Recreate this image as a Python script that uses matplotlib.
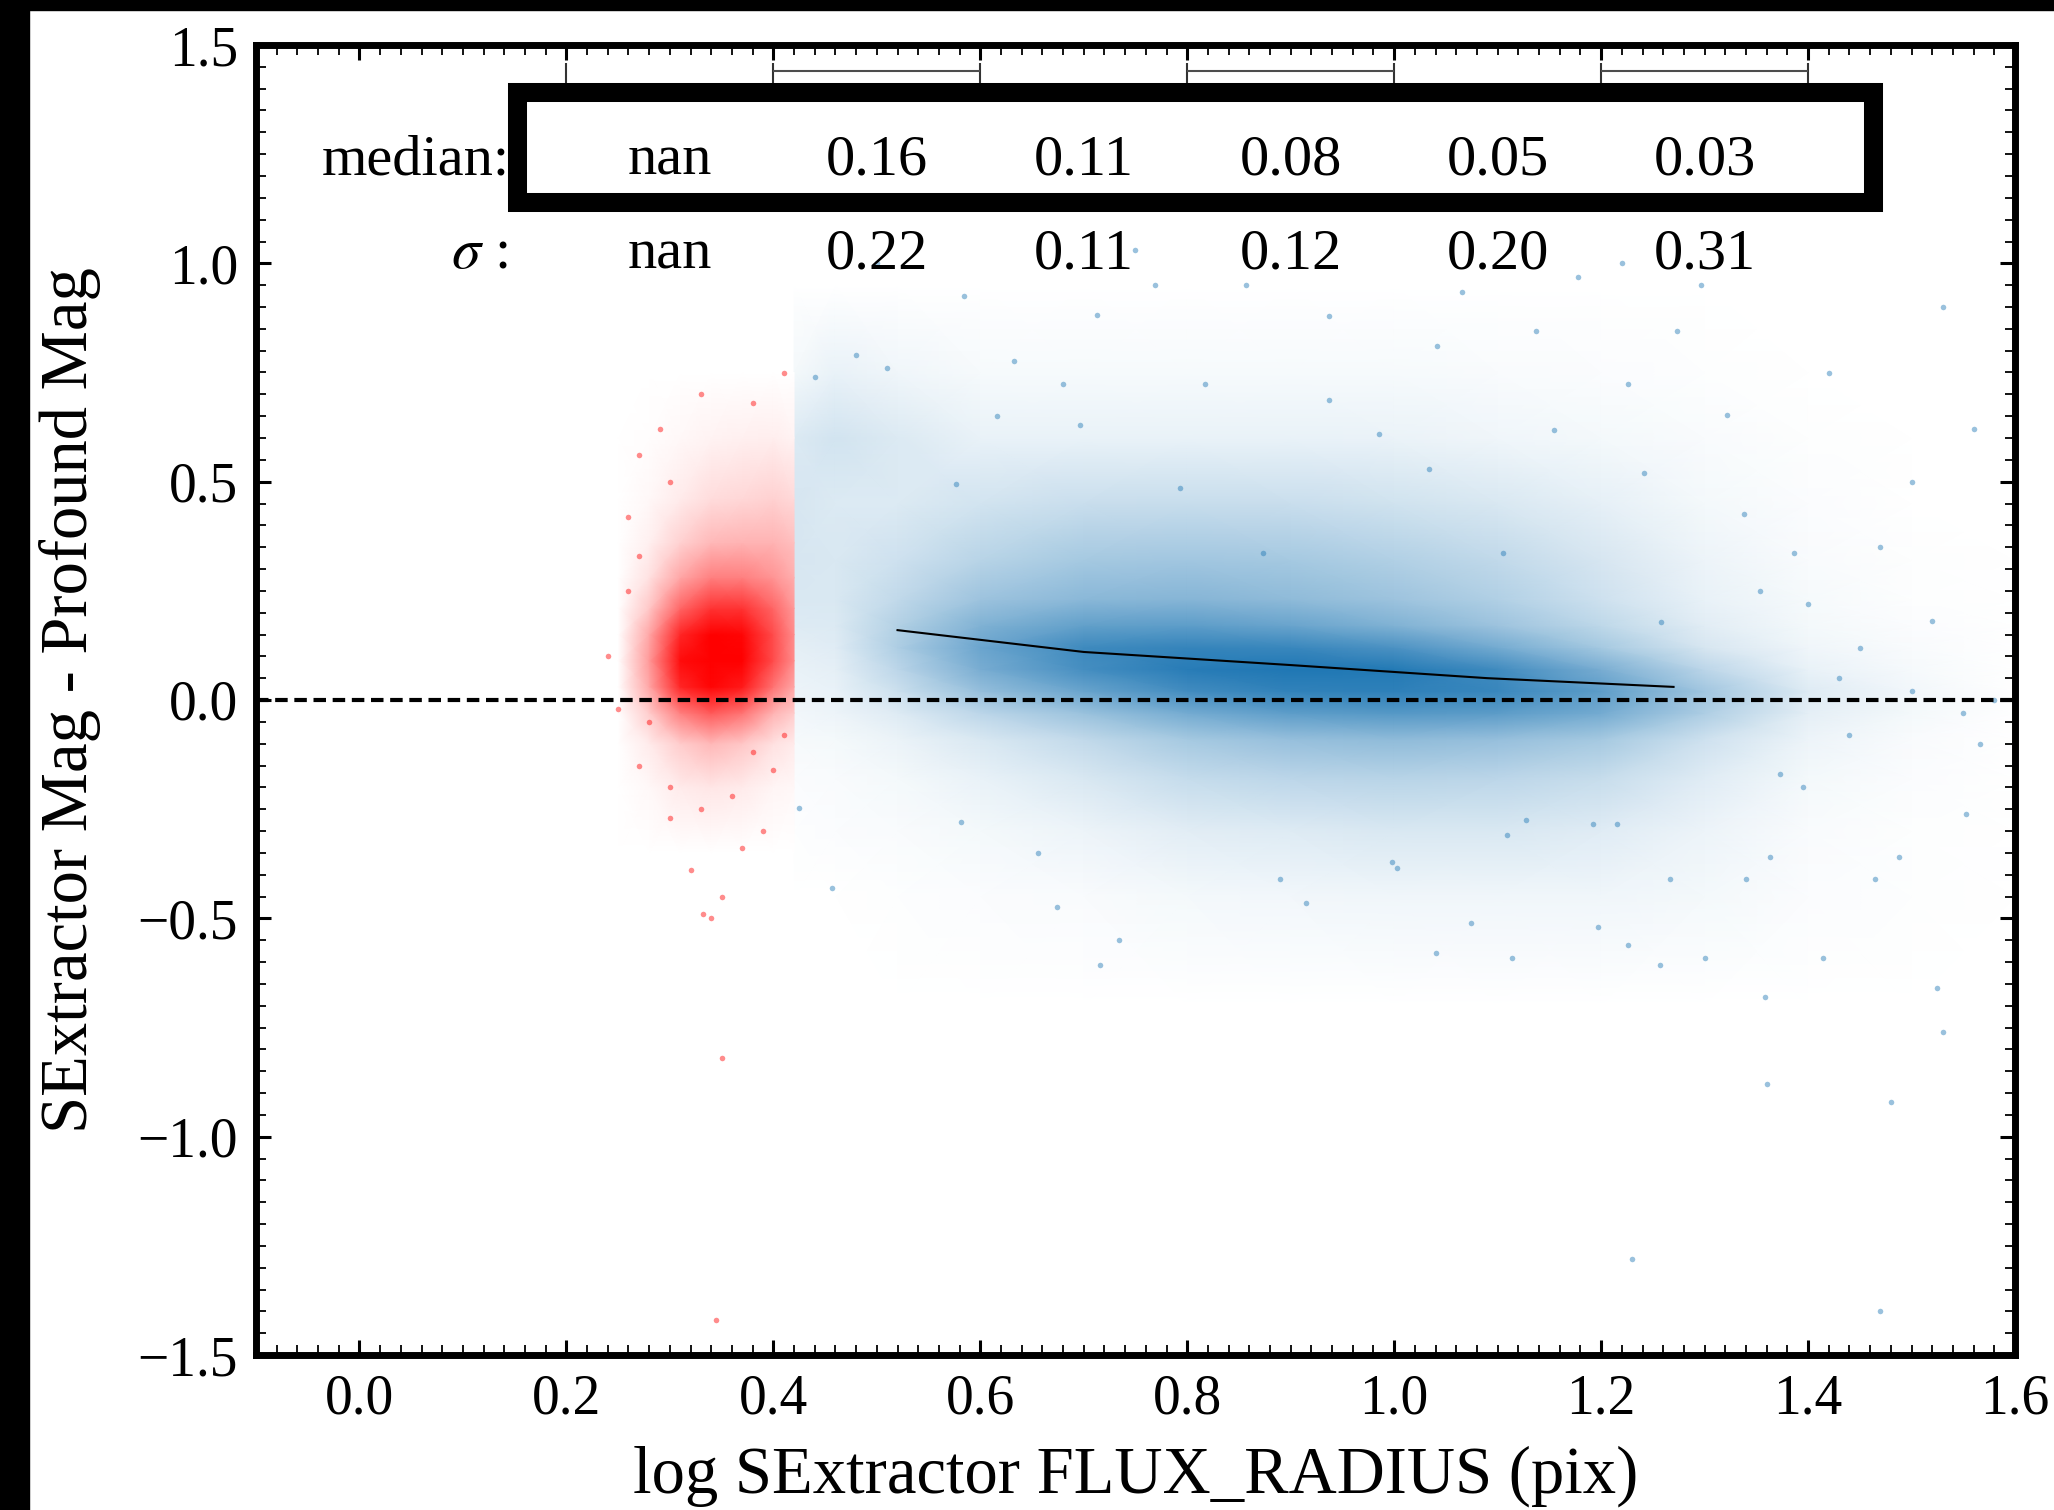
import numpy as np
import matplotlib
matplotlib.use('Agg')
import matplotlib.pyplot as plt
from matplotlib.colors import LinearSegmentedColormap
from matplotlib.patches import Rectangle
from matplotlib.ticker import MultipleLocator

plt.rcParams['font.family'] = 'serif'
plt.rcParams['font.serif'] = ['Liberation Serif', 'DejaVu Serif']
plt.rcParams['mathtext.fontset'] = 'stix'

# binned statistics (bins of 0.2 in log radius)
bin_edges = [0.2, 0.4, 0.6, 0.8, 1.0, 1.2, 1.4]
bin_centers = [0.3, 0.5, 0.7, 0.9, 1.1, 1.3]
medians = [np.nan, 0.16, 0.11, 0.08, 0.05, 0.03]
sigmas = [np.nan, 0.22, 0.11, 0.12, 0.20, 0.31]
shown_bins = [(0.4, 0.6), (0.8, 1.0), (1.2, 1.4)]

# running median line
med_x = [0.52, 0.70, 0.90, 1.09, 1.27]
med_y = [0.16, 0.11, 0.08, 0.05, 0.03]

# point density of the blue (resolved) sample
blue_gx = [0.42, 0.46, 0.52, 0.6, 0.7, 0.8, 0.9, 1.0, 1.1, 1.2, 1.3, 1.4, 1.5, 1.6]
blue_gy = [-0.7, -0.45, -0.3, -0.18, -0.09, -0.03, 0.02, 0.07, 0.12, 0.17,
           0.23, 0.32, 0.45, 0.6, 0.75, 0.95]
blue_dens = [
    [0, 0, 0, 0, 0, 0, 0, 0, 0, 0, 0, 0, 0, 0],
    [0, 0, 0.01, 0.02, 0.03, 0.05, 0.06, 0.07, 0.07, 0.07, 0.05, 0.02, 0.01, 0],
    [0.01, 0.02, 0.03, 0.05, 0.08, 0.13, 0.15, 0.17, 0.17, 0.14, 0.08, 0.03, 0.01, 0],
    [0.02, 0.03, 0.05, 0.1, 0.17, 0.26, 0.3, 0.32, 0.3, 0.25, 0.14, 0.05, 0.02, 0],
    [0.04, 0.05, 0.09, 0.17, 0.28, 0.4, 0.47, 0.5, 0.47, 0.4, 0.22, 0.08, 0.03, 0],
    [0.06, 0.08, 0.15, 0.3, 0.45, 0.62, 0.72, 0.76, 0.73, 0.62, 0.36, 0.12, 0.05, 0],
    [0.08, 0.1, 0.23, 0.47, 0.67, 0.84, 0.92, 0.93, 0.88, 0.72, 0.42, 0.15, 0.06, 0],
    [0.1, 0.12, 0.3, 0.6, 0.83, 0.96, 1.0, 0.98, 0.85, 0.6, 0.3, 0.1, 0.04, 0],
    [0.12, 0.14, 0.36, 0.66, 0.86, 0.9, 0.88, 0.8, 0.62, 0.4, 0.18, 0.07, 0.03, 0],
    [0.15, 0.16, 0.34, 0.57, 0.7, 0.72, 0.67, 0.57, 0.44, 0.29, 0.13, 0.05, 0.02, 0],
    [0.17, 0.17, 0.28, 0.44, 0.52, 0.54, 0.5, 0.44, 0.35, 0.22, 0.1, 0.04, 0.01, 0],
    [0.18, 0.17, 0.22, 0.32, 0.4, 0.42, 0.4, 0.35, 0.28, 0.18, 0.08, 0.03, 0.01, 0],
    [0.18, 0.16, 0.16, 0.2, 0.24, 0.25, 0.24, 0.21, 0.17, 0.11, 0.05, 0.02, 0, 0],
    [0.16, 0.2, 0.16, 0.1, 0.1, 0.1, 0.1, 0.09, 0.07, 0.05, 0.03, 0.01, 0, 0],
    [0.05, 0.1, 0.07, 0.04, 0.04, 0.04, 0.04, 0.04, 0.03, 0.02, 0.01, 0, 0, 0],
    [0, 0, 0, 0, 0, 0, 0, 0, 0, 0, 0, 0, 0, 0],
]

# point density of the red (unresolved) sample
red_gx = [0.25, 0.28, 0.31, 0.34, 0.37, 0.40, 0.42]
red_gy = [-0.35, -0.2, -0.1, -0.03, 0.03, 0.09, 0.15, 0.21, 0.28, 0.36, 0.46, 0.6, 0.75]
red_dens = [
    [0, 0, 0, 0, 0, 0, 0],
    [0, 0.03, 0.08, 0.1, 0.08, 0.04, 0.03],
    [0, 0.08, 0.2, 0.28, 0.22, 0.12, 0.08],
    [0, 0.2, 0.5, 0.65, 0.55, 0.3, 0.2],
    [0, 0.35, 0.85, 0.98, 0.9, 0.55, 0.35],
    [0, 0.4, 0.95, 1.0, 1.0, 0.7, 0.45],
    [0, 0.35, 0.85, 1.0, 0.98, 0.7, 0.45],
    [0, 0.22, 0.6, 0.8, 0.8, 0.6, 0.4],
    [0, 0.12, 0.35, 0.5, 0.5, 0.42, 0.32],
    [0, 0.06, 0.18, 0.28, 0.3, 0.3, 0.25],
    [0, 0.03, 0.08, 0.14, 0.16, 0.18, 0.15],
    [0, 0.01, 0.03, 0.05, 0.06, 0.07, 0.05],
    [0, 0, 0, 0, 0, 0, 0],
]

# sparse outlying points
blue_px = [0.44, 0.48, 0.51, 0.616, 0.696, 0.793, 1.034, 1.041, 0.937, 1.137,
           1.273, 1.322, 1.241, 1.338, 1.354, 0.817, 0.584, 0.633, 0.713, 0.857,
           1.066, 1.178, 1.297, 0.769, 0.68, 0.937, 0.985, 1.154, 1.226, 0.577,
           0.873, 1.105, 1.386, 1.258, 1.5, 1.55, 1.43, 1.45, 1.52, 1.58,
           1.47, 1.5, 1.56, 1.42, 1.53, 1.4, 1.44, 1.36, 1.48, 1.53,
           1.23, 1.47, 1.257, 1.30, 1.226, 1.414, 1.525, 1.358, 1.04, 1.114,
           0.716, 0.734, 1.074, 1.197, 0.915, 0.89, 0.998, 1.267, 1.34, 1.465,
           1.488, 1.553, 1.395, 1.363, 0.674, 0.656, 0.581, 0.457, 0.425, 1.566,
           1.373, 1.192, 1.109, 1.003, 1.215, 1.127, 0.5, 0.75, 1.22]
blue_py = [0.74, 0.79, 0.76, 0.65, 0.63, 0.485, 0.53, 0.81, 0.88, 0.845,
           0.845, 0.653, 0.52, 0.426, 0.25, 0.724, 0.925, 0.776, 0.882, 0.951,
           0.935, 0.969, 0.951, 0.951, 0.724, 0.687, 0.609, 0.618, 0.724, 0.494,
           0.337, 0.337, 0.337, 0.179, 0.02, -0.03, 0.05, 0.12, 0.18, 0.0,
           0.35, 0.5, 0.62, 0.75, 0.9, 0.22, -0.08, -0.88, -0.92, -0.76,
           -1.28, -1.40, -0.607, -0.59, -0.56, -0.59, -0.66, -0.68, -0.58, -0.59,
           -0.607, -0.55, -0.51, -0.52, -0.465, -0.41, -0.37, -0.41, -0.41, -0.41,
           -0.36, -0.26, -0.2, -0.36, -0.474, -0.35, -0.28, -0.43, -0.247, -0.1,
           -0.17, -0.284, -0.31, -0.385, -0.284, -0.275, 1.0, 1.03, 1.0]

red_px = [0.26, 0.27, 0.29, 0.3, 0.33, 0.38, 0.41, 0.28, 0.27, 0.25,
          0.3, 0.33, 0.36, 0.4, 0.39, 0.35, 0.34, 0.32, 0.37, 0.30,
          0.332, 0.35, 0.345, 0.38, 0.41, 0.24, 0.26, 0.27]
red_py = [0.42, 0.56, 0.62, 0.5, 0.7, 0.68, 0.75, -0.05, -0.15, -0.02,
          -0.2, -0.25, -0.22, -0.16, -0.3, -0.45, -0.5, -0.39, -0.34, -0.27,
          -0.49, -0.82, -1.42, -0.12, -0.08, 0.1, 0.25, 0.33]

W, H = 2054, 1510
fig = plt.figure(figsize=(W / 100, H / 100), dpi=100)
ax = fig.add_axes([256 / W, 1 - 1355 / H, (2015 - 256) / W, (1355 - 45) / H])

# black border strips of the original screenshot
fig.patches.append(Rectangle((0, 1 - 10 / H), 1, 10 / H, transform=fig.transFigure,
                             color='k', zorder=0))
fig.patches.append(Rectangle((0, 0), 29 / W, 1, transform=fig.transFigure,
                             color='k', zorder=0))

blue_cmap = LinearSegmentedColormap.from_list('bl', ['white', '#1f77b4'])
red_cmap = LinearSegmentedColormap.from_list('rd', ['white', '#ff0000'])

BX, BY = np.meshgrid(blue_gx, blue_gy)
ax.pcolormesh(BX, BY, np.array(blue_dens), shading='gouraud', cmap=blue_cmap,
              vmin=0, vmax=1, zorder=1, rasterized=True)
RX, RY = np.meshgrid(red_gx, red_gy)
ax.pcolormesh(RX, RY, np.array(red_dens), shading='gouraud', cmap=red_cmap,
              vmin=0, vmax=1, zorder=1, rasterized=True)

ax.scatter(blue_px, blue_py, s=16, color='#1f77b4', alpha=0.45, lw=0, zorder=2)
ax.scatter(red_px, red_py, s=16, color='red', alpha=0.45, lw=0, zorder=2)

ax.axhline(0, color='k', ls=(0, (3, 1.6)), lw=3, zorder=3)
ax.plot(med_x, med_y, color='k', lw=1.5, zorder=4)

# bin markers at the top
ax.vlines(bin_edges, 1.413, 1.458, color='0.2', lw=1.5, zorder=4)
for lo, hi in shown_bins:
    ax.hlines(1.4405, lo, hi, color='0.3', lw=1.5, zorder=4)

ax.add_patch(Rectangle((0.1527, 1.140), 1.463 - 0.1527, 1.392 - 1.140,
                       fill=False, ec='k', lw=13.7, zorder=5))

tsize = 42
ax.text(0.1455, 1.2023, 'median:', ha='right', va='baseline', fontsize=tsize, zorder=6)
ax.text(0.1436, 0.989, r'$\sigma$ :', ha='right', va='baseline', fontsize=tsize, zorder=6)
for xc, m, s in zip(bin_centers, medians, sigmas):
    ax.text(xc, 1.2023, f'{m:.2f}', ha='center', va='baseline', fontsize=tsize, zorder=6)
    ax.text(xc, 0.989, f'{s:.2f}', ha='center', va='baseline', fontsize=tsize, zorder=6)

ax.set_xlim(-0.1, 1.6)
ax.set_ylim(-1.5, 1.5)
ax.xaxis.set_major_locator(MultipleLocator(0.2))
ax.xaxis.set_minor_locator(MultipleLocator(0.02))
ax.yaxis.set_major_locator(MultipleLocator(0.5))
ax.yaxis.set_minor_locator(MultipleLocator(0.05))
ax.tick_params(which='both', direction='in', top=True, right=True)
ax.tick_params(which='major', length=10.8, width=2.2, labelsize=40, pad=13)
ax.tick_params(which='minor', length=7.2, width=1.3)
for sp in ax.spines.values():
    sp.set_linewidth(5)

ax.set_xlabel('log SExtractor FLUX_RADIUS (pix)', fontsize=48, labelpad=15)
ax.set_ylabel('SExtractor Mag - Profound Mag', fontsize=48, labelpad=26)

fig.savefig('out.png', dpi=100)
